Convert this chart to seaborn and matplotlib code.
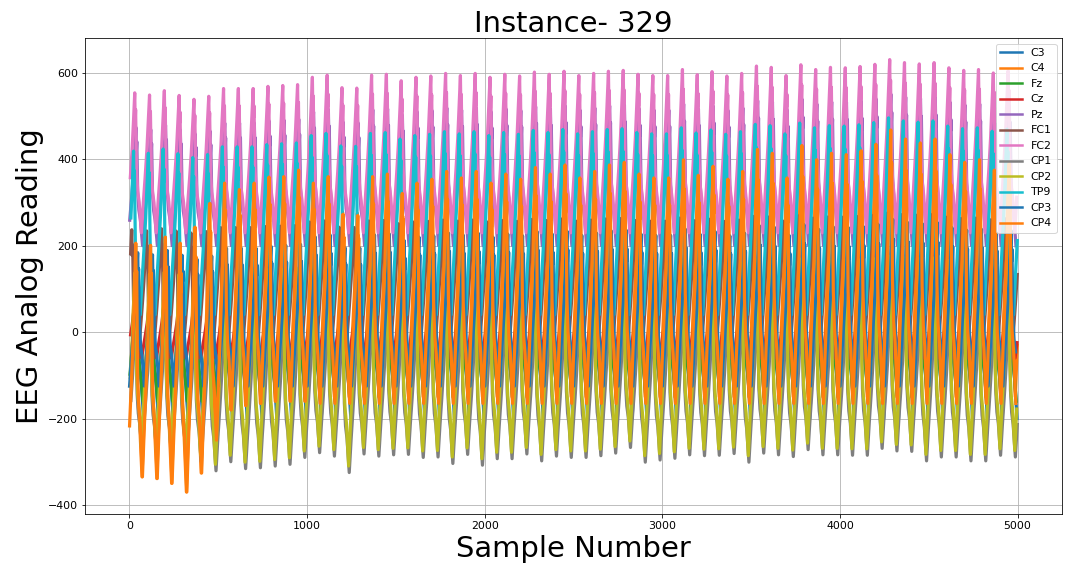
import matplotlib
matplotlib.use("Agg")
import matplotlib.pyplot as plt
import numpy as np
import pandas as pd
import seaborn as sns

# channel names in plotting order (later ones drawn on top)
channels = ["C3", "C4", "Fz", "Cz", "Pz", "FC1", "FC2", "CP1", "CP2", "TP9", "CP3", "CP4"]

n_samples = 5000
n_cycles = 60
first_peak = 30  # sample index of the first spike

# one cycle of the waveform (phase 0 = spike, 0.45 = trough)
cycle_phase = [0.00, 0.03, 0.06, 0.12, 0.20, 0.30, 0.45, 0.58, 0.70, 0.82, 0.92]
cycle_level = [1.00, 0.80, 0.88, 0.45, 0.30, 0.22, 0.00, 0.22, 0.40, 0.60, 0.82]

# FC2 spike heights, one per cycle
fc2_peaks = [554, 549, 559, 548, 539, 546, 564, 564, 564, 569, 571, 573, 590, 595, 566,
             565, 595, 597, 582, 590, 593, 599, 594, 599, 590, 597, 593, 602, 597, 604,
             594, 599, 604, 606, 597, 594, 594, 608, 596, 603, 593, 599, 616, 613, 594,
             619, 608, 613, 612, 615, 620, 631, 624, 621, 624, 612, 606, 608, 600, 605]

# CP1 troughs (lowest grey tips), one per cycle
cp1_troughs = [-280, -285, -290, -300, -300, -321, -300, -316, -314, -310, -306, -290,
               -279, -287, -325, -282, -287, -284, -283, -290, -289, -304, -283, -308,
               -293, -293, -282, -298, -287, -290, -290, -286, -280, -267, -301, -296,
               -292, -284, -286, -285, -281, -301, -280, -284, -288, -272, -284, -284,
               -285, -285, -269, -275, -276, -298, -289, -289, -298, -298, -285, -289]

# CP4 / C4 start-up drift over the first cycles
cp4_start_peaks = [206, 201, 220, 206, 243, 298, 345, 330, 345, 359, 360, 375]
cp4_start_troughs = [-335, -339, -350, -370, -326, -250, -180, -170, -165, -160, -160, -160]

# steady spike / trough level per channel, how the spike follows the FC2 drift,
# and the timing lag of each channel (fraction of a cycle)
peak_level = [200, 380, 150, 100, 520, 260, 600, 50, 160, 465, 230, 375]
trough_level = [-200, -150, -160, -60, 200, -60, 230, -290, -265, 40, -125, -165]
peak_gain = [1.0, 3.0, 0.5, 0.5, 1.0, 0.5, 1.0, 0.5, 0.5, 1.0, 1.0, 3.0]
phase_lag = [0.15, 0.04, 0.10, 0.02, 0.08, -0.20, 0.00, 0.04, 0.00, -0.08, 0.20, 0.07]
cp2_above_cp1 = 15  # olive troughs sit just above the grey tips

palette = sns.color_palette("tab10", 10) + sns.color_palette("tab10", 2)


def channel_frame(idx, name):
    drift = np.array(fc2_peaks, dtype=float) - 600
    peaks = peak_level[idx] + peak_gain[idx] * drift
    troughs = np.full(n_cycles, float(trough_level[idx]))
    if name == "FC2":
        peaks = np.array(fc2_peaks, dtype=float)
    if name == "CP1":
        troughs = np.array(cp1_troughs, dtype=float)
    if name == "CP2":
        troughs = np.array(cp1_troughs, dtype=float) + cp2_above_cp1
    if name in ("CP4", "C4"):
        k = len(cp4_start_peaks)
        peaks[:k] = cp4_start_peaks
        troughs[:k] = cp4_start_troughs

    period = n_samples / n_cycles
    xs, ys = [], []
    for k in range(-1, n_cycles):
        kk = max(k, 0)
        p_now = peaks[kk]
        p_next = peaks[min(kk + 1, n_cycles - 1)]
        t = troughs[kk]
        for ph, lv in zip(cycle_phase, cycle_level):
            top = p_now if ph <= 0.45 else p_next
            xs.append(first_peak + (k + ph + phase_lag[idx]) * period)
            ys.append(t + (top - t) * lv)
    xs = np.array(xs)
    ys = np.array(ys)
    keep = (xs >= 0) & (xs <= n_samples - 1)
    return pd.DataFrame({"sample": xs[keep], "value": ys[keep], "channel": name})


df = pd.concat([channel_frame(i, c) for i, c in enumerate(channels)], ignore_index=True)

fig = plt.figure(figsize=(1082 / 72, 577 / 72), dpi=72)
ax = fig.add_axes([85 / 1082, 1 - 514 / 577, (1062 - 85) / 1082, (514 - 38) / 577])

sns.lineplot(data=df, x="sample", y="value", hue="channel", hue_order=channels,
             palette=palette, estimator=None, sort=False, linewidth=3.2, ax=ax)

ax.set_xlim(-250, 5250)
ax.set_ylim(-421, 681)
ax.set_xticks(range(0, 5001, 1000))
ax.set_yticks(range(-400, 601, 200))
ax.tick_params(labelsize=11)
ax.grid(True)
ax.set_title("Instance- 329", fontsize=29)
ax.set_xlabel("Sample Number", fontsize=29)
ax.set_ylabel("EEG Analog Reading", fontsize=29)
leg = ax.legend(loc="upper right", fontsize=11)
for line in leg.get_lines():
    line.set_linewidth(2.5)

fig.savefig("out.png", dpi=72)
